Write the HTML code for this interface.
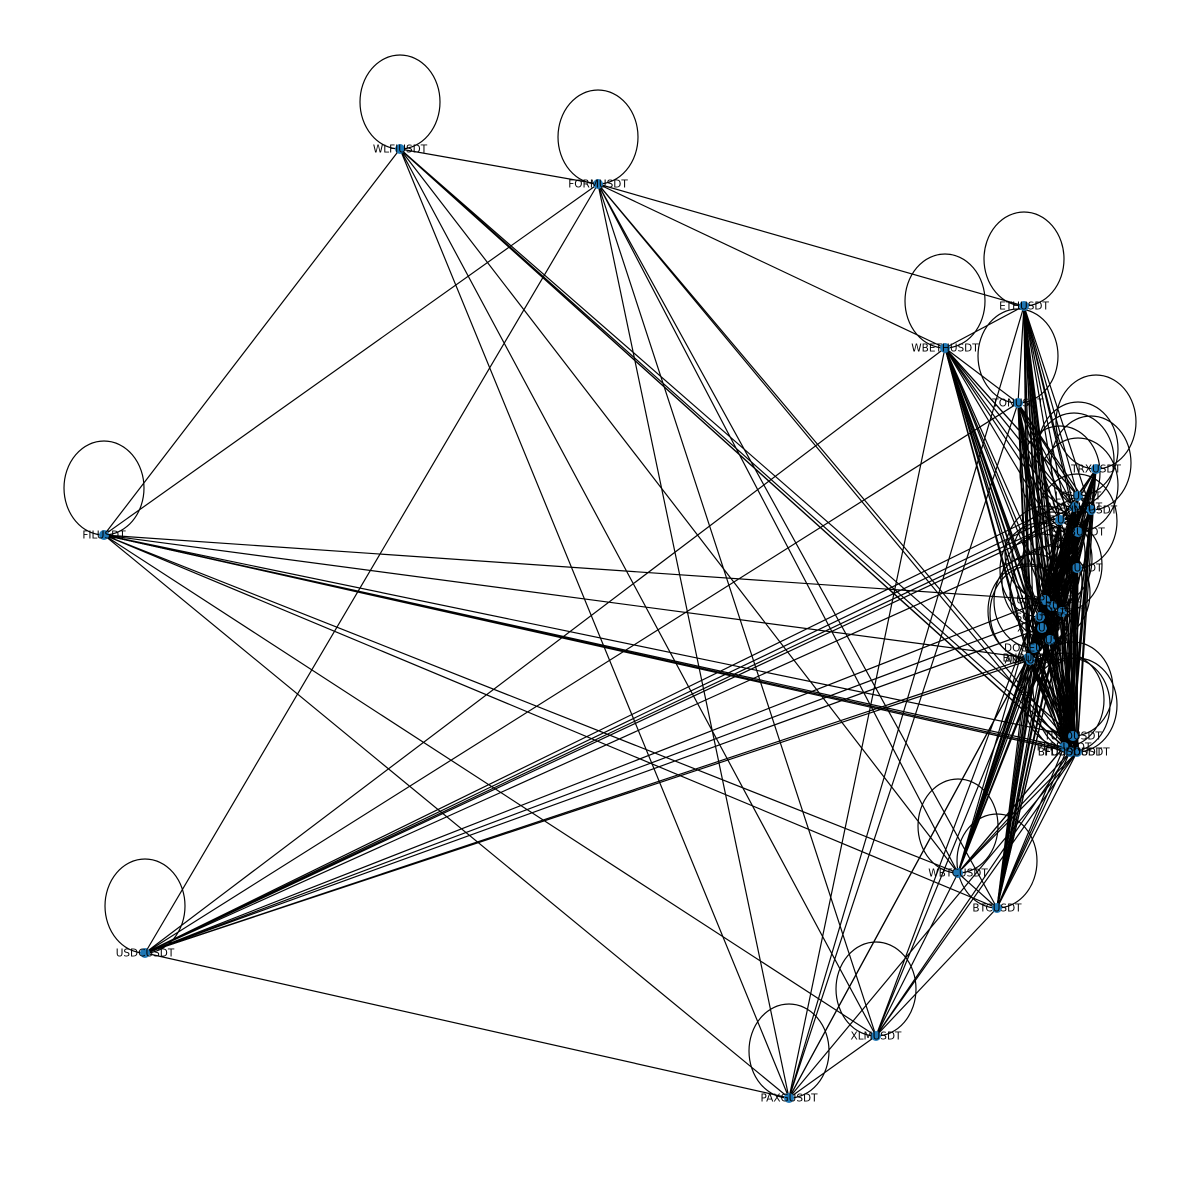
<!DOCTYPE html>
<html><head><meta charset="utf-8"><style>
html,body{margin:0;padding:0;background:#fff;}
svg{display:block;}
text{font-family:"DejaVu Sans","Liberation Sans",sans-serif;font-size:10.5px;fill:#000;}
</style></head><body>
<svg id="chart" width="1200" height="1200" viewBox="0 0 1200 1200">
<g id="edges"></g>
<g id="loops"></g>
<g id="nodes"></g>
<g id="labels"></g>
</svg>
<script>
const nodeNames = ["WLFIUSDT","FORMUSDT","ETHUSDT","WBETHUSDT","TONUSDT","TRXUSDT","FILUSDT","USDCUSDT","PAXGUSDT","XLMUSDT","WBTCUSDT","BTCUSDT",
"LTCUSDT","AVAXUSDT","LINKUSDT","DOTUSDT","SHIBUSDT","BCHUSDT","USDPUSDT","NEARUSDT","SOLUSDT","XRPUSDT","UNIUSDT","DOGEUSDT","BNBUSDT","ADAUSDT","SUIUSDT","PEPEUSDT","BFUSDUSDT","FDUSDUSDT","TUSDUSDT"];
const nodeX = [400,598,1024,945,1018,1096,104,145,789,876,958,997,
1078,1074,1091,1060,1078,1077,1045,1052,1040,1042,1050,1034,1028,1030,1062,1064,1070,1077,1073];
const nodeY = [149,184,306,348,403,469,535,953,1098,1036,873,908,
496,507,510,520,532,568,600,606,617,628,640,648,658,660,612,747,752,752,736];
const hubs = [];
for(let i=12;i<nodeNames.length;i++) hubs.push(i);
const edgeSrc = [], edgeDst = [];
function addEdge(a,b){edgeSrc.push(a);edgeDst.push(b);}
const outerLinks = [[0,1],[0,6],[0,8],[0,9],[0,10],[1,6],[1,7],[1,2],[1,3],[1,8],[1,9],[1,11],[1,10],
[6,10],[6,9],[6,8],[6,11],[7,8],[7,3],[7,4],[8,9],[8,3],[8,2],[8,4],[2,3],[2,4],[3,4],[10,11],[9,11],[9,10]];
outerLinks.forEach(p=>addEdge(p[0],p[1]));
const outerToHub = [[0,[27,28,29,30]],[1,[28,29]],[2,hubs],[3,hubs],[4,hubs],[5,hubs],[6,[27,28,29,30,18,24]],
[7,[12,13,14,15,16,18,20,21,24,25]],[8,[17,29,24]],[9,[12,28,29,25]],[10,hubs],[11,hubs]];
outerToHub.forEach(o=>o[1].forEach(h=>addEdge(o[0],h)));
for(let i=0;i<hubs.length;i++)for(let j=i+1;j<hubs.length;j++)addEdge(hubs[i],hubs[j]);
const loopNodes = [0,1,2,3,4,5,6,7,8,9,10,11,12,13,14,15,16,17,18,19,20,21,22,23,24,25,26,27,28,29,30];
const NS="http://www.w3.org/2000/svg";
const gE=document.getElementById('edges'),gL=document.getElementById('loops'),gN=document.getElementById('nodes'),gT=document.getElementById('labels');
for(let k=0;k<edgeSrc.length;k++){
  const l=document.createElementNS(NS,'line');
  l.setAttribute('x1',nodeX[edgeSrc[k]]);l.setAttribute('y1',nodeY[edgeSrc[k]]);
  l.setAttribute('x2',nodeX[edgeDst[k]]);l.setAttribute('y2',nodeY[edgeDst[k]]);
  l.setAttribute('stroke','#000');l.setAttribute('stroke-width','1.2');
  
  
  gE.appendChild(l);
}
loopNodes.forEach(i=>{
  const e=document.createElementNS(NS,'ellipse');
  e.setAttribute('cx',nodeX[i]);e.setAttribute('cy',nodeY[i]-47);
  e.setAttribute('rx',40);e.setAttribute('ry',47);
  e.setAttribute('fill','none');e.setAttribute('stroke','#000');e.setAttribute('stroke-width','1.2');
  
  
  gL.appendChild(e);
});
nodeNames.forEach((n,i)=>{
  const c=document.createElementNS(NS,'circle');
  c.setAttribute('cx',nodeX[i]);c.setAttribute('cy',nodeY[i]);c.setAttribute('r',5);
  c.setAttribute('fill','#1f77b4');
  
  
  gN.appendChild(c);
  const t=document.createElementNS(NS,'text');
  t.setAttribute('x',nodeX[i]);t.setAttribute('y',nodeY[i]+3.5);
  t.setAttribute('text-anchor','middle');
  t.textContent=n;
  
  
  gT.appendChild(t);
});
</script>
</body></html>
